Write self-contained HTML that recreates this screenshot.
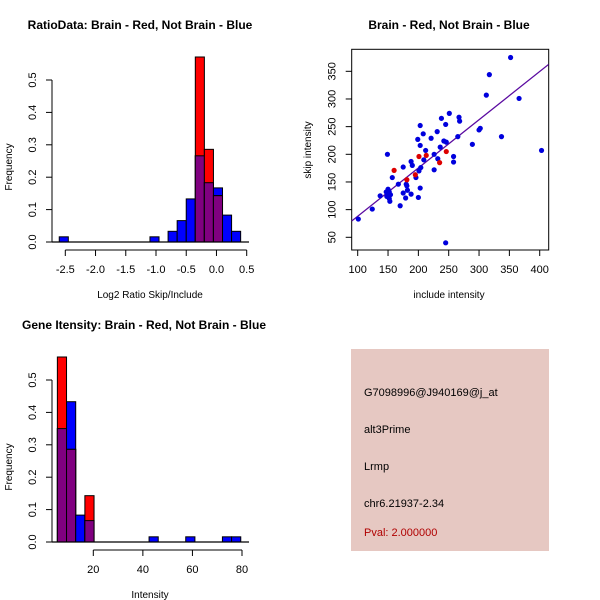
<!DOCTYPE html>
<html><head><meta charset="utf-8">
<style>
body{margin:0;background:#fff;}
svg{display:block;font-family:"Liberation Sans",sans-serif;}
</style></head>
<body>
<svg id="c" width="600" height="600" xmlns="http://www.w3.org/2000/svg">
<rect width="600" height="600" fill="#fff"/>
<g id="p1"></g>
<g id="p2"></g>
<g id="p3"></g>
<g>
<rect x="351" y="349" width="198" height="202" fill="#e6c8c2"/>
<text x="364" y="396" font-size="11" fill="#000">G7098996@J940169@j_at</text>
<text x="364" y="433" font-size="11" fill="#000">alt3Prime</text>
<text x="364" y="470" font-size="11" fill="#000">Lrmp</text>
<text x="364" y="507" font-size="11" fill="#000">chr6.21937-2.34</text>
<text x="364" y="536" font-size="11" fill="#b00000">Pval: 2.000000</text>
</g>
</svg>
<script>
// Plot 1 data
const ratioBinStart = -2.6, ratioBinWidth = 0.15;
const ratioBlue = [0.016,0,0,0,0,0,0,0,0,0,0.016,0,0.033,0.066,0.133,0.266,0.183,0.167,0.083,0.033];
const ratioRed  = [0,0,0,0,0,0,0,0,0,0,0,0,0,0,0,0.571,0.286,0.143,0,0];
const ratioXTicks = [-2.5,-2.0,-1.5,-1.0,-0.5,0.0,0.5];
const freqTicks = [0.0,0.1,0.2,0.3,0.4,0.5];
// Plot 3 data
const intBinStart = 5.5, intBinWidth = 3.7;
const intBlue = [0.35,0.433,0.083,0.066,0,0,0,0,0,0,0.016,0,0,0,0.016,0,0,0,0.016,0.016];
const intRed  = [0.571,0.286,0,0.143,0,0,0,0,0,0,0,0,0,0,0,0,0,0,0,0];
const intXTicks = [20,40,60,80];
// Plot 2 data
const blueX = [101,124,137,149,147,150,148,152,153,154,149,152,157,167,170,175,175,179,180,181,182,188,188,190,196,200,199,201,203,203,203,204,208,209,212,221,226,226,231,232,236,238,242,245,245,246,251,258,258,265,267,268,289,300,302,312,317,337,352,366,403];
const blueY = [83,101,125,200,132,137,124,120,115,127,128,132,158,146,107,177,130,121,146,143,135,128,187,180,158,122,227,170,139,252,216,176,237,190,207,229,200,172,241,192,213,265,224,40,254,222,274,196,186,232,267,260,218,244,247,307,344,232,375,301,207];
const redX = [160,181,195,201,213,235,246];
const redY = [171,154,163,196,198,185,205];
const fitCoef = [0.9, 0.872];
const scXTicks = [100,150,200,250,300,350,400];
const scYTicks = [50,100,150,200,250,300,350];

const NS="http://www.w3.org/2000/svg";
function mk(parent,tag,attrs){const e=document.createElementNS(NS,tag);for(const k in attrs)e.setAttribute(k,attrs[k]);parent.appendChild(e);return e;}
function txt(parent,x,y,s,size,opts){const t=mk(parent,'text',Object.assign({x:x,y:y,'font-size':size,'text-anchor':'middle',fill:'#000'},opts||{}));t.textContent=s;return t;}

function hist(g,cfg){
  const {x0,x1,ux0,ux1,y0,yTop,title,xlab,binStart,binW,blue,red,xticks,tickFmt,titleX,axisY} = cfg;
  const sx=v=>x0+(v-ux0)*(x1-x0)/(ux1-ux0);
  const sy=v=>y0-(v/0.5)*(y0-yTop);
  const T=txt(g,titleX,29,title,12,{'font-weight':'bold'});
  
  
  for(let i=0;i<blue.length;i++){
    const a=binStart+i*binW,b=a+binW,bl=blue[i],rd=red[i],mn=Math.min(bl,rd);
    if(bl>0){const r=mk(g,'rect',{x:sx(a),y:sy(bl),width:sx(b)-sx(a),height:sy(0)-sy(bl),fill:'#0000ff',stroke:'#000','stroke-width':1});
      
      }
    if(rd>0){const r=mk(g,'rect',{x:sx(a),y:sy(rd),width:sx(b)-sx(a),height:sy(0)-sy(rd),fill:'#ff0000',stroke:'#000','stroke-width':1});
      
      }
    if(mn>0){const r=mk(g,'rect',{x:sx(a),y:sy(mn),width:sx(b)-sx(a),height:sy(0)-sy(mn),fill:'#800080',stroke:'#000','stroke-width':1});
      
      }
  }
  mk(g,'line',{x1:52,x2:249,y1:y0,y2:y0,stroke:'#000','stroke-width':1.2});
  // y axis
  const ya=mk(g,'g',{});
  
  
  mk(ya,'line',{x1:52,x2:52,y1:sy(0),y2:sy(0.5),stroke:'#000'});
  freqTicks.forEach(v=>{mk(ya,'line',{x1:46,x2:52,y1:sy(v),y2:sy(v),stroke:'#000'});
    txt(ya,0,0,v.toFixed(1),11,{transform:`translate(36,${sy(v)}) rotate(-90)`});});
  const yl=txt(g,0,0,'Frequency',10,{transform:`translate(12,${(sy(0)+sy(0.5))/2+6}) rotate(-90)`});
  
  
  // x axis
  const xa=mk(g,'g',{});
  
  
  mk(xa,'line',{x1:sx(xticks[0]),x2:sx(xticks[xticks.length-1]),y1:axisY,y2:axisY,stroke:'#000'});
  xticks.forEach(v=>{mk(xa,'line',{x1:sx(v),x2:sx(v),y1:axisY,y2:axisY+6,stroke:'#000'});
    txt(xa,sx(v),axisY+23,tickFmt(v),11);});
  const xl=txt(g,150,axisY+48,xlab,10);
  
  
}

hist(document.getElementById('p1'),{x0:65.3,x1:246.7,ux0:-2.5,ux1:0.5,y0:242,yTop:80,title:'RatioData: Brain - Red, Not Brain - Blue',titleX:140,
  xlab:'Log2 Ratio Skip/Include',binStart:ratioBinStart,binW:ratioBinWidth,blue:ratioBlue,red:ratioRed,xticks:ratioXTicks,tickFmt:v=>v.toFixed(1),axisY:250});

const g3=document.getElementById('p3');
g3.setAttribute('transform','translate(0,300)');
hist(g3,{x0:93.3,x1:242,ux0:20,ux1:80,y0:242,yTop:80,title:'Gene Itensity: Brain - Red, Not Brain - Blue',titleX:144,
  xlab:'Intensity',binStart:intBinStart,binW:intBinWidth,blue:intBlue,red:intRed,xticks:intXTicks,tickFmt:v=>String(v),axisY:250});

// scatter
(function(){
  const g=document.getElementById('p2');
  const L=351.7,R=548.7,Tp=49.3,B=250;
  const sx=v=>357.7+(v-100)*0.6067;
  const sy=v=>237.3-(v-50)*0.5533;
  const t=txt(g,449,29,'Brain - Red, Not Brain - Blue',12,{'font-weight':'bold'});
  
  
  mk(g,'rect',{x:L,y:Tp,width:R-L,height:B-Tp,fill:'none',stroke:'#000'});
  const xa=mk(g,'g',{});
  
  
  scXTicks.forEach(v=>{mk(xa,'line',{x1:sx(v),x2:sx(v),y1:B,y2:B+6,stroke:'#000'});txt(xa,sx(v),B+23,String(v),11);});
  const ya=mk(g,'g',{});
  
  
  scYTicks.forEach(v=>{mk(ya,'line',{x1:L-6,x2:L,y1:sy(v),y2:sy(v),stroke:'#000'});
    txt(ya,0,0,String(v),11,{transform:`translate(${L-16},${sy(v)}) rotate(-90)`});});
  const xl=txt(g,449,298,'include intensity',10);
  
  
  const yl=txt(g,0,0,'skip intensity',10,{transform:`translate(311,150) rotate(-90)`});
  
  
  const clip=mk(g,'clipPath',{id:'clp'});mk(clip,'rect',{x:L,y:Tp,width:R-L,height:B-Tp});
  const xa0=90.1,xa1=414.8;
  const ln=mk(g,'line',{x1:sx(xa0),y1:sy(fitCoef[0]+fitCoef[1]*xa0),x2:sx(xa1),y2:sy(fitCoef[0]+fitCoef[1]*xa1),stroke:'#5a0aa0','stroke-width':1.3,'clip-path':'url(#clp)'});
  
  
  blueX.forEach((x,i)=>{const c=mk(g,'circle',{cx:sx(x),cy:sy(blueY[i]),r:2.6,fill:'#0000dd'});
    
    });
  redX.forEach((x,i)=>{const c=mk(g,'circle',{cx:sx(x),cy:sy(redY[i]),r:2.6,fill:'#dd0000'});
    
    });
})();
</script>
</body></html>
